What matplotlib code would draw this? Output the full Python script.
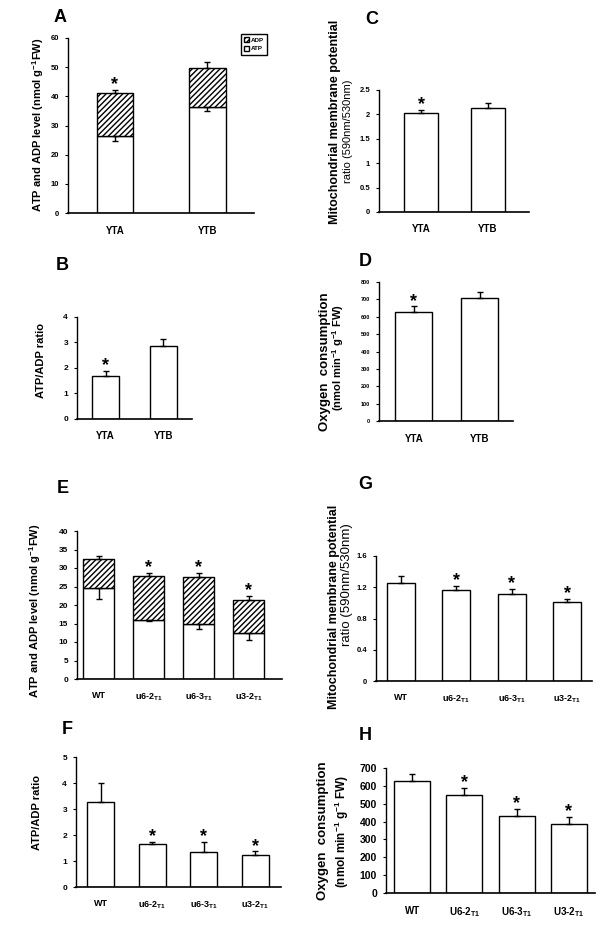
import numpy as np
import matplotlib
matplotlib.use('Agg')
import matplotlib.pyplot as plt
from matplotlib.patches import Patch

plt.rcParams['font.family'] = ['Liberation Sans', 'DejaVu Sans']
plt.rcParams['font.weight'] = 'bold'
plt.rcParams['mathtext.fontset'] = 'custom'
plt.rcParams['mathtext.rm'] = 'Liberation Sans:bold'
plt.rcParams['mathtext.it'] = 'Liberation Sans:bold'
plt.rcParams['mathtext.bf'] = 'Liberation Sans:bold'
plt.rcParams['hatch.linewidth'] = 1.0

# ---- data ----
yt_groups = ['YTA', 'YTB']
# A: ATP and ADP level (stacked)
a_atp = [26.5, 36.4]
a_atp_err = [1.7, 1.4]
a_adp = [14.6, 13.3]
a_total_err = [1.1, 2.2]
# B: ATP/ADP ratio
b_ratio = [1.69, 2.85]
b_err = [0.20, 0.28]
# C: mitochondrial membrane potential
c_mmp = [2.02, 2.14]
c_err = [0.08, 0.09]
# D: oxygen consumption
d_o2 = [628, 707]
d_err = [31, 37]

line_groups = ['WT', 'u6-2$_{T1}$', 'u6-3$_{T1}$', 'u3-2$_{T1}$']
line_groups_h = ['WT', 'U6-2$_{T1}$', 'U6-3$_{T1}$', 'U3-2$_{T1}$']
# E: ATP and ADP level (stacked)
e_atp = [24.7, 15.9, 15.0, 12.3]
e_atp_err = [3.0, 0.3, 1.5, 1.8]
e_adp = [7.8, 12.0, 12.7, 9.1]
e_total_err = [0.7, 0.7, 1.0, 1.0]
# F: ATP/ADP ratio
f_ratio = [3.26, 1.64, 1.36, 1.24]
f_err = [0.73, 0.10, 0.37, 0.13]
# G: mitochondrial membrane potential
g_mmp = [1.26, 1.16, 1.11, 1.01]
g_err = [0.08, 0.055, 0.07, 0.04]
# H: oxygen consumption
h_o2 = [627, 551, 429, 385]
h_err = [38, 37, 40, 39]

W, H = 600, 927
fig = plt.figure(figsize=(6, 9.27), dpi=100)


def box(l, t, r, b):
    return fig.add_axes([l / W, 1 - b / H, (r - l) / W, (b - t) / H])


def fx(x, y):
    return x / W, 1 - y / H


def style(ax, ylim, step, xlim, tick_fs, xt_fs, labels, fmt='%g'):
    ax.set_ylim(*ylim)
    ax.set_xlim(*xlim)
    ticks = np.arange(ylim[0], ylim[1] + step / 2, step)
    ax.set_yticks(ticks)
    ax.set_yticklabels([fmt % v for v in ticks])
    ax.spines['top'].set_visible(False)
    ax.spines['right'].set_visible(False)
    ax.spines['left'].set_linewidth(1.0)
    ax.spines['bottom'].set_linewidth(1.2)
    ax.tick_params(axis='y', direction='out', length=2.5, width=0.8,
                   labelsize=tick_fs, pad=4)
    ax.set_xticks(np.arange(len(labels)))
    ax.set_xticklabels(labels, fontsize=xt_fs, fontweight='bold')
    ax.tick_params(axis='x', length=0, pad=9)


def star(ax, x, y, fs=13):
    ax.annotate('*', (x, y), xytext=(0, 0.5), textcoords='offset points',
                ha='center', va='baseline', fontsize=fs, fontweight='bold')


def simple_bars(ax, vals, errs, width, stars):
    x = np.arange(len(vals))
    ax.bar(x, vals, width=width, color='white', edgecolor='black', linewidth=1.0, zorder=2)
    ax.errorbar(x, vals, yerr=[np.zeros(len(vals)), errs], fmt='none',
                ecolor='black', elinewidth=1.0, capsize=2.5, capthick=1.0, zorder=3)
    for i in stars:
        star(ax, x[i], vals[i] + errs[i])


def stacked_bars(ax, atp, atp_err, adp, tot_err, width, stars):
    x = np.arange(len(atp))
    total = np.array(atp) + np.array(adp)
    ax.bar(x, atp, width=width, color='white', edgecolor='black', linewidth=1.0, zorder=2)
    ax.bar(x, adp, bottom=atp, width=width, color='white', edgecolor='black',
           hatch='//////', linewidth=1.0, zorder=2)
    ax.errorbar(x, atp, yerr=[atp_err, np.zeros(len(atp))], fmt='none',
                ecolor='black', elinewidth=1.0, capsize=2.5, capthick=1.0, zorder=3)
    ax.errorbar(x, total, yerr=[np.zeros(len(atp)), tot_err], fmt='none',
                ecolor='black', elinewidth=1.0, capsize=2.5, capthick=1.0, zorder=3)
    for i in stars:
        star(ax, x[i], total[i] + tot_err[i])


# ---- A ----
axA = box(68, 38, 254, 213)
stacked_bars(axA, a_atp, a_atp_err, a_adp, a_total_err, 0.39, [0])
style(axA, (0, 60), 10, (-0.508, 1.503), 5.5, 7, yt_groups)
axA.legend(handles=[Patch(facecolor='white', edgecolor='black', hatch='//////', label='ADP'),
                    Patch(facecolor='white', edgecolor='black', label='ATP')],
           loc='upper left', bbox_to_anchor=fx(238, 31), bbox_transform=fig.transFigure,
           fontsize=4.5, handlelength=0.8, handleheight=0.8, handletextpad=0.3,
           borderpad=0.5, labelspacing=0.5, fancybox=False, framealpha=1,
           edgecolor='black')
fig.text(*fx(38, 125), 'ATP and ADP level (nmol g$^{-1}$FW)', rotation=90,
         ha='center', va='center', fontsize=8, fontweight='bold')
fig.text(*fx(60, 17), 'A', ha='center', va='center', fontsize=13, fontweight='bold')

# ---- C ----
axC = box(379, 90, 529, 212)
simple_bars(axC, c_mmp, c_err, 0.51, [0])
style(axC, (0, 2.5), 0.5, (-0.63, 1.62), 5.5, 7, yt_groups)
fig.text(*fx(335, 122), 'Mitochondrial membrane potential', rotation=90,
         ha='center', va='center', fontsize=9, fontweight='bold')
fig.text(*fx(348, 131), 'ratio (590nm/530nm)', rotation=90,
         ha='center', va='center', fontsize=8, fontweight='normal')
fig.text(*fx(372, 19), 'C', ha='center', va='center', fontsize=13, fontweight='bold')

# ---- B ----
axB = box(77, 317, 192, 419)
simple_bars(axB, b_ratio, b_err, 0.47, [0])
style(axB, (0, 4), 1, (-0.5, 1.5), 6, 7, yt_groups)
fig.text(*fx(41, 360), 'ATP/ADP ratio', rotation=90,
         ha='center', va='center', fontsize=8, fontweight='bold')
fig.text(*fx(62, 265), 'B', ha='center', va='center', fontsize=13, fontweight='bold')

# ---- D ----
axD = box(379, 282, 513, 421)
simple_bars(axD, d_o2, d_err, 0.56, [0])
style(axD, (0, 800), 100, (-0.53, 1.51), 4, 7, yt_groups)
fig.text(*fx(325, 362), 'Oxygen  consumption', rotation=90,
         ha='center', va='center', fontsize=9.5, fontweight='bold')
fig.text(*fx(338, 357), '(nmol min$^{-1}$ g$^{-1}$ FW)', rotation=90,
         ha='center', va='center', fontsize=8, fontweight='bold')
fig.text(*fx(365, 262), 'D', ha='center', va='center', fontsize=13, fontweight='bold')

# ---- E ----
axE = box(77, 531, 282, 679)
stacked_bars(axE, e_atp, e_atp_err, e_adp, e_total_err, 0.62, [1, 2, 3])
style(axE, (0, 40), 5, (-0.43, 3.67), 6, 6.5, line_groups)
fig.text(*fx(35, 611), 'ATP and ADP level (nmol g$^{-1}$FW)', rotation=90,
         ha='center', va='center', fontsize=8, fontweight='bold')
fig.text(*fx(63, 488), 'E', ha='center', va='center', fontsize=13, fontweight='bold')

# ---- G ----
axG = box(376, 556, 592, 681)
simple_bars(axG, g_mmp, g_err, 0.5, [1, 2, 3])
style(axG, (0, 1.6), 0.4, (-0.45, 3.45), 5.5, 6.5, line_groups)
fig.text(*fx(334, 607), 'Mitochondrial membrane potential', rotation=90,
         ha='center', va='center', fontsize=9, fontweight='bold')
fig.text(*fx(347, 585), 'ratio (590nm/530nm)', rotation=90,
         ha='center', va='center', fontsize=9.5, fontweight='normal')
fig.text(*fx(365, 485), 'G', ha='center', va='center', fontsize=13, fontweight='bold')

# ---- F ----
axF = box(76, 757, 281, 887)
simple_bars(axF, f_ratio, f_err, 0.52, [1, 2, 3])
style(axF, (0, 5), 1, (-0.48, 3.5), 6, 6.5, line_groups)
fig.text(*fx(37, 812), 'ATP/ADP ratio', rotation=90,
         ha='center', va='center', fontsize=8, fontweight='bold')
fig.text(*fx(67, 730), 'F', ha='center', va='center', fontsize=13, fontweight='bold')

# ---- H ----
axH = box(386, 768, 595, 893)
simple_bars(axH, h_o2, h_err, 0.69, [1, 2, 3])
style(axH, (0, 700), 100, (-0.5, 3.5), 7.5, 7, line_groups_h)
fig.text(*fx(323, 831), 'Oxygen  consumption', rotation=90,
         ha='center', va='center', fontsize=9.5, fontweight='bold')
fig.text(*fx(342, 831), '(nmol min$^{-1}$ g$^{-1}$ FW)', rotation=90,
         ha='center', va='center', fontsize=8.5, fontweight='bold')
fig.text(*fx(365, 735), 'H', ha='center', va='center', fontsize=13, fontweight='bold')

fig.savefig('out.png', dpi=100)
